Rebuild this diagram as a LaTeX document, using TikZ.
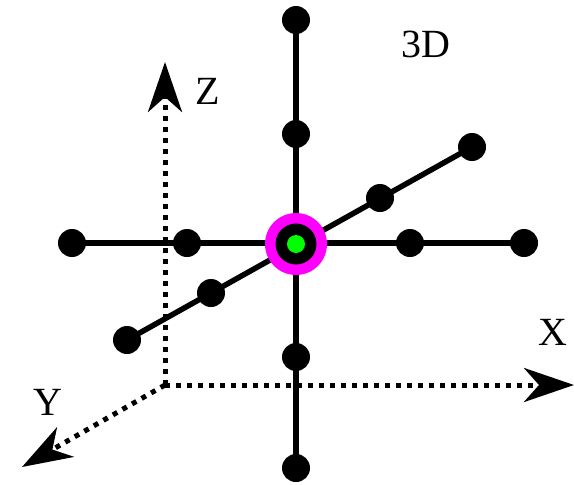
\documentclass[tikz,border=0pt]{standalone}
\usepackage{fontspec}
\setmainfont{Liberation Serif}
\usetikzlibrary{arrows.meta,backgrounds}
\definecolor{ringpink}{RGB}{255,0,255}
\definecolor{cellgreen}{RGB}{0,255,0}

\begin{document}
\begin{tikzpicture}[x=1pt,y=-1pt,
    dot/.style={circle, fill=black, inner sep=0pt, minimum size=28pt},
    link/.style={line width=5.5pt},
    axis/.style={line width=5pt, dash pattern=on 5pt off 6pt,
        -{Stealth[length=50pt,width=34pt,inset=15pt]}},
    lbl/.style={font=\fontsize{40}{46}\selectfont}]
            \useasboundingbox (0,0) rectangle (574,485);
            % axes
            \coordinate (o) at (165,385);
            \coordinate (zend) at (165,62);
            \coordinate (xend) at (574,385);
            \coordinate (yend) at (22,467);
            \draw[axis] (o) -- (zend);
            \draw[axis] (o) -- (xend);
            \draw[axis] (o) -- (yend);
            \node[lbl] (zlbl) at (208,91) {Z};
            \node[lbl] (xlbl) at (553,332) {X};
            \node[lbl] (ylbl) at (48,402) {Y};
            \node[lbl] (title) at (426,44) {3D};
            % stencil points
            \node[dot] (top2) at (296,20) {};
            \node[dot] (top1) at (296,134) {};
            \node[dot] (bot1) at (296,357) {};
            \node[dot] (bot2) at (296,468) {};
            \node[dot] (left2) at (72,243) {};
            \node[dot] (left1) at (187,243) {};
            \node[dot] (right1) at (410,243) {};
            \node[dot] (right2) at (524,243) {};
            \node[dot] (back2) at (472,147) {};
            \node[dot] (back1) at (380,198) {};
            \node[dot] (front1) at (211,293) {};
            \node[dot] (front2) at (127,340) {};
            \node[circle, fill=ringpink, inner sep=0pt, minimum size=62pt] (ring) at (296,244) {};
            \node[circle, fill=black, inner sep=0pt, minimum size=41pt] (mid) at (296,244) {};
            \node[circle, fill=cellgreen, inner sep=0pt, minimum size=18pt] (cell) at (296,244) {};
            \begin{pgfonlayer}{background}
            \draw[link] (top2.center) -- (bot2.center);
            \draw[link] (left2.center) -- (right2.center);
            \draw[link] (front2.center) -- (back2.center);
            \end{pgfonlayer}
        \end{tikzpicture}
\end{document}
